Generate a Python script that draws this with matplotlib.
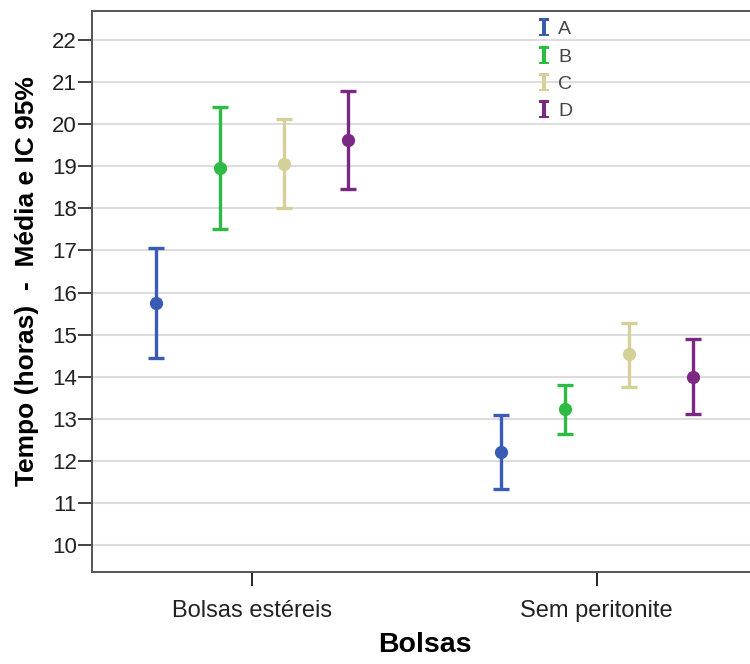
import matplotlib
matplotlib.use("Agg")
import matplotlib.pyplot as plt
from matplotlib.lines import Line2D
from matplotlib.path import Path
import numpy as np

plt.rcParams['font.family'] = ['Liberation Sans', 'DejaVu Sans']

categories = ["Bolsas estéreis", "Sem peritonite"]
series = ["A", "B", "C", "D"]
colors = ["#3a5bb5", "#2dbb44", "#d5cf98", "#7b2784"]
means = {
    "A": [15.76, 12.21],
    "B": [18.96, 13.23],
    "C": [19.06, 14.54],
    "D": [19.62, 13.99],
}
lower = {
    "A": [14.44, 11.33],
    "B": [17.51, 12.64],
    "C": [18.00, 13.76],
    "D": [18.47, 13.11],
}
upper = {
    "A": [17.07, 13.09],
    "B": [20.40, 13.80],
    "C": [20.12, 15.28],
    "D": [20.80, 14.90],
}
yticks = list(range(10, 23))

fig = plt.figure(figsize=(7.5, 6.64), dpi=100)
ax = fig.add_axes([92/750, (664-572)/664, 665/750, 561/664])

x = np.arange(len(categories))
offsets = np.array([-1.5, -0.5, 0.5, 1.5]) * 0.186
for i, s in enumerate(series):
    m = np.array(means[s])
    lo = m - np.array(lower[s])
    hi = np.array(upper[s]) - m
    ax.errorbar(x + offsets[i], m, yerr=[lo, hi], fmt='o', color=colors[i],
                ecolor=colors[i], elinewidth=2.4, capsize=6, capthick=2.4,
                markersize=8.5, zorder=3)

ax.set_xlim(-0.465, 1.465)
ax.set_ylim(9.36, 22.69)
ax.set_yticks(yticks)
ax.set_xticks(x)
ax.set_xticklabels(categories, fontsize=17, color="#222222")
ax.tick_params(axis='y', labelsize=16, colors="#222222", length=10, width=1.2, pad=1)
ax.tick_params(axis='x', length=10, width=1.2, pad=10)
ax.yaxis.grid(True, color="#dddddd", linewidth=1.5, zorder=0)
ax.set_axisbelow(True)
for sp in ['left', 'bottom', 'top']:
    ax.spines[sp].set_color("#555555")
    ax.spines[sp].set_linewidth(1.4)
ax.spines['right'].set_visible(False)

ax.set_ylabel("Tempo (horas)  -  Média e IC 95%", fontsize=19, fontweight='bold')
ax.yaxis.set_label_coords(-0.08, (572 - 281) / 561)
ax.set_xlabel("Bolsas", fontsize=20.5, fontweight='bold', labelpad=7)

ibeam = Path([(-0.3, 0.5), (0.3, 0.5), (0.3, 0.36), (0.12, 0.36), (0.12, -0.36),
              (0.3, -0.36), (0.3, -0.5), (-0.3, -0.5), (-0.3, -0.36), (-0.12, -0.36),
              (-0.12, 0.36), (-0.3, 0.36), (-0.3, 0.5)], closed=True)
handles = [Line2D([], [], linestyle='none', marker=ibeam, color=c,
                  markersize=13, markeredgewidth=0) for c in colors]
leg = ax.legend(handles, series, loc='upper left', bbox_to_anchor=(0.648, 1.007),
                frameon=False, fontsize=14, labelspacing=0.5, handlelength=0.8,
                handletextpad=0.3, borderaxespad=0.3)
for t in leg.get_texts():
    t.set_color("#444444")

fig.savefig("out.png", dpi=100)
